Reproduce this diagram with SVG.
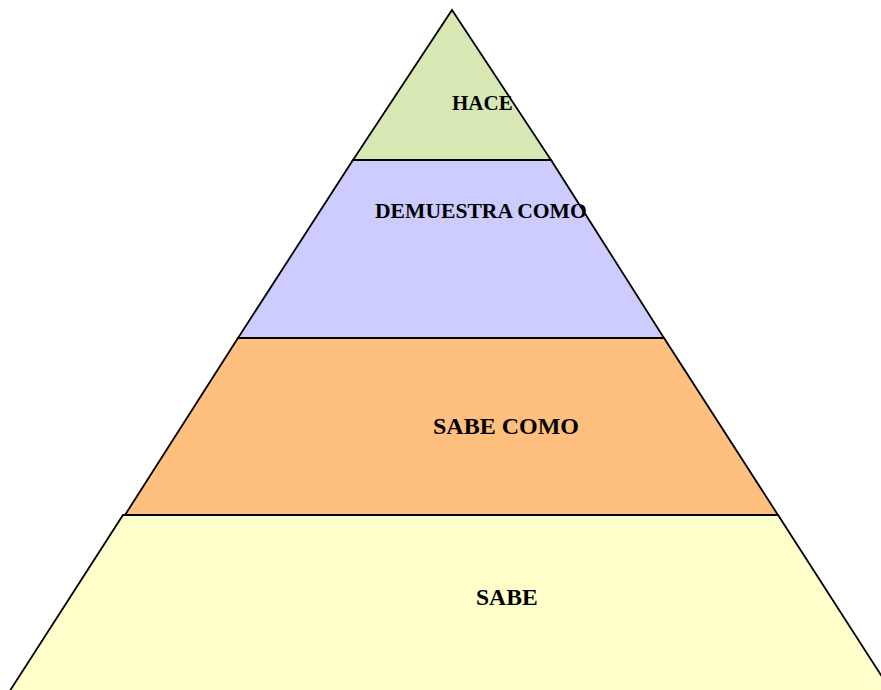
<svg xmlns="http://www.w3.org/2000/svg" width="881" height="690" viewBox="0 0 881 690">
<style>
.band{stroke:#000;stroke-width:1.8;stroke-linejoin:miter}
.lbl{font-family:"Liberation Serif","Times New Roman",serif;font-weight:bold;fill:#000}
</style>
<rect width="881" height="690" fill="#fff"/>
<g id="sabe">
<polygon class="band" points="123,515 778,515 897,700 4,700" fill="#FFFFCC"/>
<text class="lbl" x="476" y="605" font-size="23.6">SABE</text>
</g>
<g id="sabe-como">
<polygon class="band" points="238,338 664,338 778,515 125,515" fill="#FFBF7F"/>
<text class="lbl" x="433" y="434" font-size="24">SABE COMO</text>
</g>
<g id="demuestra-como">
<polygon class="band" points="353,160 551,160 664,338 238,338" fill="#CCCCFF"/>
<text class="lbl" x="375" y="218" font-size="21.6">DEMUESTRA COMO</text>
</g>
<g id="hace">
<polygon class="band" points="452,10 551,160 353,160" fill="#D7E8B5"/>
<text class="lbl" x="452" y="110" font-size="21">HACE</text>
</g>
<g id="connectors"></g>
</svg>
